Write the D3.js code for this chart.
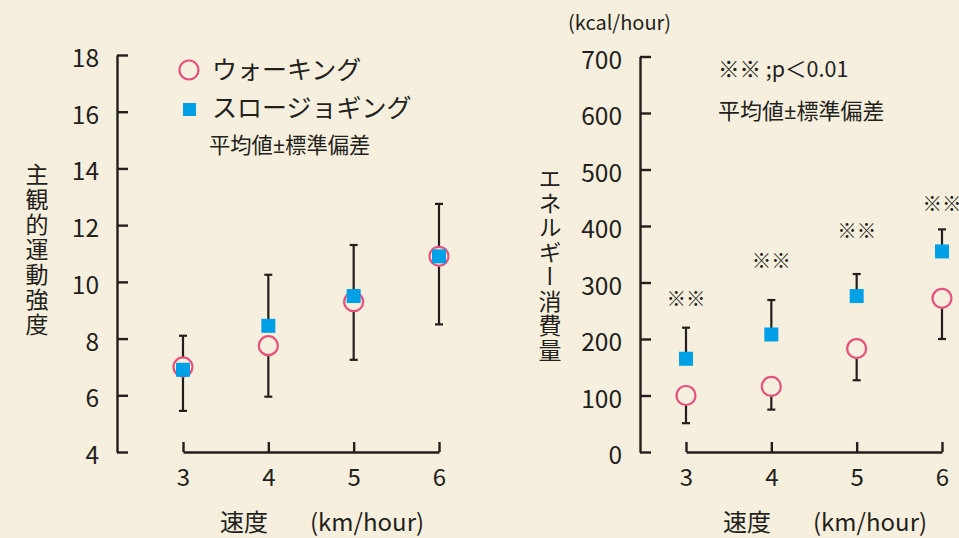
<!DOCTYPE html>
<html>
<head>
<meta charset="utf-8">
<script src="https://cdn.jsdelivr.net/npm/d3@7"></script>
<style>
  html, body { margin: 0; padding: 0; background: #f6efde; }
  svg { display: block; }
  text { font-family: "Noto Sans CJK JP", "Noto Sans", sans-serif; fill: #231f1c; }
</style>
</head>
<body>
<svg id="chart"></svg>
<script>
// ============================== DATA ==============================
const speeds = [3, 4, 5, 6];
const rpeTicks = [4, 6, 8, 10, 12, 14, 16, 18];
const kcalTicks = [0, 100, 200, 300, 400, 500, 600, 700];

// subjective exercise intensity (mean, sd)
const rpeWalkMean = [7.0, 7.75, 9.3, 10.9];
const rpeWalkSd = [1.55, 1.8, 2.05, 2.4];
const rpeJogMean = [6.9, 8.45, 9.5, 10.9];
const rpeJogSd = [1.2, 1.8, 1.8, 1.85];

// energy expenditure kcal/hour (mean, sd)
const kcalWalkMean = [100, 116, 183, 272];
const kcalWalkSd = [49, 41, 56, 72];
const kcalJogMean = [165, 208, 276, 355];
const kcalJogSd = [55, 61, 39, 39];
// level (kcal) of the ※※ marks
const sigLevel = [270, 337, 390, 438];

const seriesNames = ["ウォーキング", "スロージョギング"];
// ==================================================================

const W = 959, H = 538;
const bg = "#f6efde", ink = "#231f1c";
const pink = "#e5507c", blue = "#00a0e6";

const svg = d3.select("#chart").attr("width", W).attr("height", H);
svg.append("rect").attr("width", W).attr("height", H).attr("fill", bg);

function panel(opt) {
    const x = d3.scaleLinear().domain([3, 6]).range(opt.xRange);
    const y = d3.scaleLinear().domain(opt.yDomain).range([452, opt.yTop]);

    // y axis (ticks inward)
    const ya = svg.append("g")
        .attr("transform", "translate(" + opt.axisX + ",0)")
        .call(d3.axisLeft(y).tickValues(opt.yTicks).tickSize(-11).tickSizeOuter(0).tickPadding(18));
    ya.selectAll("text").attr("font-size", 24.5).attr("dy", "0.47em")
        .style("font-family", '"Noto Sans CJK JP", sans-serif').attr("fill", ink);

    // x axis (ticks upward)
    const xa = svg.append("g")
        .attr("transform", "translate(0,452)")
        .call(d3.axisBottom(x).tickValues(speeds).tickSize(-10).tickSizeOuter(0).tickPadding(17).tickFormat(d3.format("d")));
    xa.selectAll("text").attr("font-size", 24)
        .style("font-family", '"Noto Sans CJK JP", sans-serif').attr("fill", ink);

    [ya, xa].forEach(a => {
        a.selectAll("path, line").attr("stroke", ink).attr("stroke-width", 2.4);
    });

    const g = svg.append("g");
    const rows = speeds.map((s, i) => ({
        s: s,
        wm: opt.walkMean[i], ws: opt.walkSd[i],
        jm: opt.jogMean[i], js: opt.jogSd[i]
    }));

    // error bars: jogging upward, walking downward
    const bar = (sel, v0, v1) => {
        sel.append("line")
            .attr("x1", d => x(d.s)).attr("x2", d => x(d.s))
            .attr("y1", d => y(v0(d))).attr("y2", d => y(v1(d)));
        sel.append("line")
            .attr("x1", d => x(d.s) - 4).attr("x2", d => x(d.s) + 4)
            .attr("y1", d => y(v1(d))).attr("y2", d => y(v1(d)));
    };
    const eb = g.selectAll(".eb").data(rows).enter().append("g")
        .attr("stroke", ink).attr("stroke-width", 2.2);
    bar(eb, d => d.jm, d => d.jm + d.js);
    bar(eb, d => d.wm, d => d.wm - d.ws);

    g.selectAll(".walk").data(rows).enter().append("circle")
        .attr("cx", d => x(d.s)).attr("cy", d => y(d.wm)).attr("r", 9.5)
        .attr("fill", bg).attr("stroke", pink).attr("stroke-width", 2.2);

    g.selectAll(".jog").data(rows).enter().append("rect")
        .attr("x", d => x(d.s) - 7).attr("y", d => y(d.jm) - 7)
        .attr("width", 14).attr("height", 14).attr("fill", blue);

    // x axis title
    svg.append("text").attr("x", x(3) + 37).attr("y", 531).attr("font-size", 24).text("速度");
    svg.append("text").attr("x", x(3) + 127).attr("y", 531).attr("font-size", 24).text("(km/hour)");

    return { x: x, y: y };
}

// "平均値±標準偏差" with a narrow ± sign
function sdNote(x, y, size) {
    const t = svg.append("text").attr("x", x).attr("y", y).attr("font-size", size);
    t.append("tspan").text("平均値");
    t.append("tspan").style("font-family", '"Noto Sans", sans-serif').text("±");
    t.append("tspan").text("標準偏差");
}

// ---------------- left panel ----------------
panel({
    xRange: [183, 439], axisX: 117, yDomain: [4, 18], yTop: 55, yTicks: rpeTicks,
    walkMean: rpeWalkMean, walkSd: rpeWalkSd, jogMean: rpeJogMean, jogSd: rpeJogSd
});

svg.append("text")
    .attr("x", 37).attr("y", 163)
    .attr("font-size", 23)
    .style("writing-mode", "vertical-rl")
    .style("letter-spacing", "2px")
    .text("主観的運動強度");

// legend
svg.append("circle").attr("cx", 189).attr("cy", 70).attr("r", 9.5)
    .attr("fill", bg).attr("stroke", pink).attr("stroke-width", 2.2);
svg.append("text").attr("x", 212).attr("y", 79).attr("font-size", 25).text(seriesNames[0]);
svg.append("rect").attr("x", 183).attr("y", 103).attr("width", 13).attr("height", 13).attr("fill", blue);
svg.append("text").attr("x", 212).attr("y", 117).attr("font-size", 25).text(seriesNames[1]);
sdNote(209, 153, 21.3);

// ---------------- right panel ----------------
const right = panel({
    xRange: [686, 942], axisX: 640, yDomain: [0, 700], yTop: 56.5, yTicks: kcalTicks,
    walkMean: kcalWalkMean, walkSd: kcalWalkSd, jogMean: kcalJogMean, jogSd: kcalJogSd
});

svg.append("text").attr("x", 568).attr("y", 30).attr("font-size", 20).text("(kcal/hour)");

svg.append("text")
    .attr("x", 550).attr("y", 167)
    .attr("font-size", 23)
    .style("writing-mode", "vertical-rl")
    .style("letter-spacing", "1.5px")
    .text("エネルギー消費量");

svg.append("text").attr("x", 718).attr("y", 77).attr("font-size", 21.5).text("※※ ;p＜0.01");
sdNote(718, 119, 22);

svg.selectAll(".sig").data(speeds).enter().append("text")
    .attr("x", d => right.x(d)).attr("y", (d, i) => right.y(sigLevel[i]))
    .attr("dy", "0.35em")
    .attr("text-anchor", "middle").attr("font-size", 19.5)
    .text("※※");
</script>
</body>
</html>
